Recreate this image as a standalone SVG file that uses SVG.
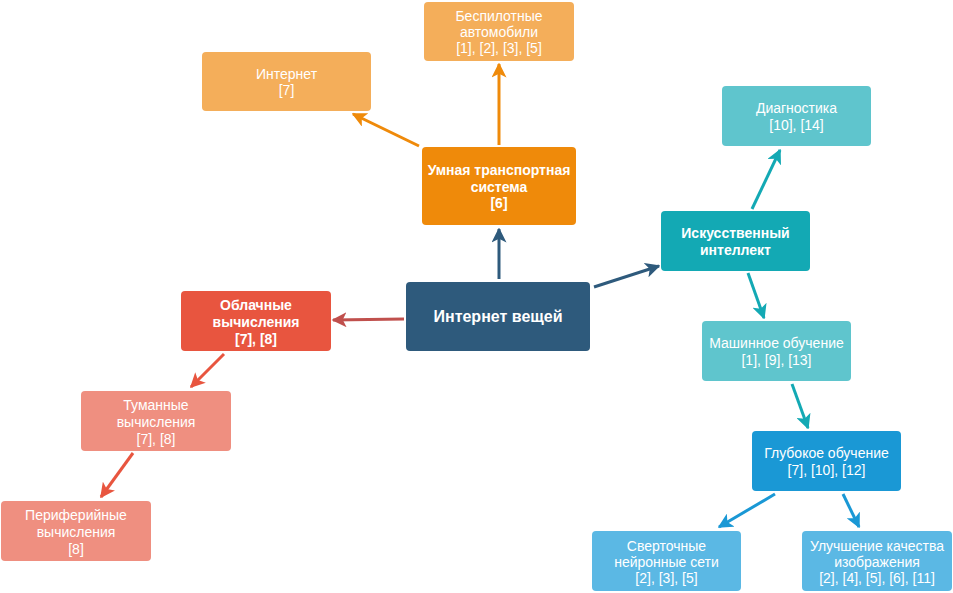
<svg xmlns="http://www.w3.org/2000/svg" width="953" height="593" viewBox="0 0 953 593">
<defs>
<style>
text{font-family:"Liberation Sans",Arial,sans-serif;font-size:14px;fill:#fff;text-anchor:middle}
.b{font-weight:bold}
.r{font-size:16px;font-weight:bold}
.c{fill:none;stroke-width:3}
</style>
<marker id="mOr" viewBox="0 0 10 10" refX="9" refY="5" markerWidth="5" markerHeight="5" orient="auto" markerUnits="strokeWidth"><path d="M0,0 L10,5 L0,10 L2.5,5 z" fill="#ef8a0a"/></marker>
<marker id="mDk" viewBox="0 0 10 10" refX="9" refY="5" markerWidth="5" markerHeight="5" orient="auto" markerUnits="strokeWidth"><path d="M0,0 L10,5 L0,10 L2.5,5 z" fill="#2e5a7c"/></marker>
<marker id="mBr" viewBox="0 0 10 10" refX="9" refY="5" markerWidth="5" markerHeight="5" orient="auto" markerUnits="strokeWidth"><path d="M0,0 L10,5 L0,10 L2.5,5 z" fill="#c0504d"/></marker>
<marker id="mRd" viewBox="0 0 10 10" refX="9" refY="5" markerWidth="5" markerHeight="5" orient="auto" markerUnits="strokeWidth"><path d="M0,0 L10,5 L0,10 L2.5,5 z" fill="#e8553f"/></marker>
<marker id="mTl" viewBox="0 0 10 10" refX="9" refY="5" markerWidth="5" markerHeight="5" orient="auto" markerUnits="strokeWidth"><path d="M0,0 L10,5 L0,10 L2.5,5 z" fill="#13a9b4"/></marker>
<marker id="mBl" viewBox="0 0 10 10" refX="9" refY="5" markerWidth="5" markerHeight="5" orient="auto" markerUnits="strokeWidth"><path d="M0,0 L10,5 L0,10 L2.5,5 z" fill="#1a98d5"/></marker>
</defs>
<rect width="953" height="593" fill="#fff"/>
<g id="connectors">
<line class="c" x1="499" y1="145" x2="499" y2="64" stroke="#ef8a0a" marker-end="url(#mOr)"/>
<line class="c" x1="419" y1="146" x2="353" y2="114" stroke="#ef8a0a" marker-end="url(#mOr)"/>
<line class="c" x1="499" y1="279" x2="499" y2="229" stroke="#2e5a7c" marker-end="url(#mDk)"/>
<line class="c" x1="594" y1="287" x2="659" y2="266" stroke="#2e5a7c" marker-end="url(#mDk)"/>
<line class="c" x1="404" y1="319" x2="333" y2="320" stroke="#c0504d" marker-end="url(#mBr)"/>
<line class="c" x1="224" y1="354" x2="191" y2="387" stroke="#e8553f" marker-end="url(#mRd)"/>
<line class="c" x1="133" y1="453" x2="101" y2="497" stroke="#e8553f" marker-end="url(#mRd)"/>
<line class="c" x1="752" y1="209" x2="780" y2="150" stroke="#13a9b4" marker-end="url(#mTl)"/>
<line class="c" x1="748" y1="273" x2="764" y2="318" stroke="#13a9b4" marker-end="url(#mTl)"/>
<line class="c" x1="792" y1="384" x2="808" y2="428" stroke="#13a9b4" marker-end="url(#mTl)"/>
<line class="c" x1="775" y1="494" x2="719" y2="527" stroke="#1a98d5" marker-end="url(#mBl)"/>
<line class="c" x1="843" y1="494" x2="859" y2="527" stroke="#1a98d5" marker-end="url(#mBl)"/>
</g>
<g id="n-bespilot"><rect x="424" y="2" width="150" height="59" rx="4" fill="#f4ae5a"/><text x="499" y="21">Беспилотные</text><text x="499" y="37">автомобили</text><text x="499" y="53">[1], [2], [3], [5]</text></g>
<g id="n-internet"><rect x="202" y="52" width="169" height="59" rx="4" fill="#f4ae5a"/><text x="286.5" y="79">Интернет</text><text x="286.5" y="95">[7]</text></g>
<g id="n-uts"><rect x="422" y="147" width="154" height="78" rx="4" fill="#ef8a0a"/><text class="b" x="499" y="175">Умная транспортная</text><text class="b" x="499" y="192">система</text><text class="b" x="499" y="208">[6]</text></g>
<g id="n-iot"><rect x="406" y="282" width="184" height="69" rx="4" fill="#2e5a7c"/><text class="r" x="498" y="322">Интернет вещей</text></g>
<g id="n-cloud"><rect x="181" y="291" width="150" height="60" rx="4" fill="#e8553f"/><text class="b" x="256" y="310">Облачные</text><text class="b" x="256" y="327">вычисления</text><text class="b" x="256" y="344">[7], [8]</text></g>
<g id="n-fog"><rect x="81" y="391" width="150" height="60" rx="4" fill="#ef8f80"/><text x="156" y="410">Туманные</text><text x="156" y="427">вычисления</text><text x="156" y="444">[7], [8]</text></g>
<g id="n-edge"><rect x="1" y="501" width="150" height="60" rx="4" fill="#ef8f80"/><text x="76" y="520">Периферийные</text><text x="76" y="537">вычисления</text><text x="76" y="554">[8]</text></g>
<g id="n-ai"><rect x="661" y="211" width="149" height="60" rx="4" fill="#13a9b4"/><text class="b" x="735.5" y="238">Искусственный</text><text class="b" x="735.5" y="255">интеллект</text></g>
<g id="n-diag"><rect x="722" y="86" width="149" height="60" rx="4" fill="#5fc5cd"/><text x="796.5" y="113">Диагностика</text><text x="796.5" y="130">[10], [14]</text></g>
<g id="n-ml"><rect x="702" y="321" width="149" height="60" rx="4" fill="#5fc5cd"/><text x="776.5" y="348">Машинное обучение</text><text x="776.5" y="365">[1], [9], [13]</text></g>
<g id="n-dl"><rect x="752" y="431" width="149" height="60" rx="4" fill="#1a98d5"/><text x="826.5" y="458">Глубокое обучение</text><text x="826.5" y="475">[7], [10], [12]</text></g>
<g id="n-cnn"><rect x="592" y="531" width="149" height="60" rx="4" fill="#5bb8e4"/><text x="666.5" y="551">Сверточные</text><text x="666.5" y="567">нейронные сети</text><text x="666.5" y="583">[2], [3], [5]</text></g>
<g id="n-img"><rect x="802" y="531" width="150" height="60" rx="4" fill="#5bb8e4"/><text x="877" y="551">Улучшение качества</text><text x="877" y="567">изображения</text><text x="877" y="583">[2], [4], [5], [6], [11]</text></g>
</svg>
